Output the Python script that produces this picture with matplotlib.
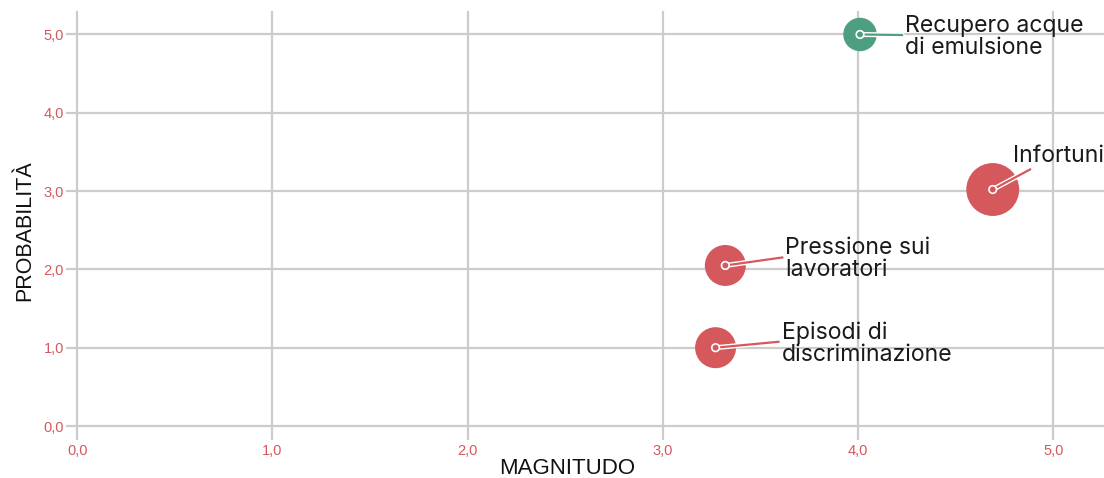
import numpy as np
import matplotlib
matplotlib.use("Agg")
import matplotlib.pyplot as plt
import matplotlib.patheffects as pe

# data
labels = ["Recupero acque\ndi emulsione", "Infortuni", "Pressione sui\nlavoratori",
          "Episodi di\ndiscriminazione"]
magnitudo = [4.01, 4.69, 3.32, 3.27]
probabilita = [5.0, 3.02, 2.05, 1.0]
rilevanza = [2, 5, 3, 3]
tipo = ["positivo", "negativo", "negativo", "negativo"]
ticks = [0, 1, 2, 3, 4, 5]
tick_labels = ["0,0", "1,0", "2,0", "3,0", "4,0", "5,0"]

# layout / style
colori = {"positivo": "#4e9f7f", "negativo": "#d4585c"}
label_offsets = [(45, 19), (20, 45), (60, 28), (66, 26)]  # pixels, text top-left
grid_c = "#cccccc"
red_tick = "#d4585c"

fig = plt.figure(figsize=(11.04, 4.78), dpi=100)
ax = fig.add_axes([77.3 / 1104, 52 / 478, 1 - 77.3 / 1104, (426 - 12) / 478])
ax.set_xlim(0, 5.26)
ax.set_ylim(0, 5.287)

for s in ax.spines.values():
    s.set_visible(False)
ax.set_xticks(ticks)
ax.set_yticks(ticks)
ax.set_xticklabels(tick_labels)
ax.set_yticklabels(tick_labels)
ax.grid(True, color=grid_c, lw=1.6)
for gl in ax.get_xgridlines() + ax.get_ygridlines():
    gl.set_clip_on(False)
ax.set_axisbelow(True)
ax.tick_params(axis="x", length=10, width=1.6, color=grid_c, pad=3,
               labelsize=10.5, labelcolor=red_tick)
ax.tick_params(axis="y", length=7.6, width=1.6, color=grid_c, pad=2,
               labelsize=10.5, labelcolor=red_tick)
for t in ax.get_xticklabels() + ax.get_yticklabels():
    t.set_fontfamily("Liberation Sans")

ax.set_xlabel("MAGNITUDO", fontsize=16, family="Liberation Sans", color="#111111")
ax.set_ylabel("PROBABILITÀ", fontsize=15.5, family="Liberation Sans", color="#111111")
ax.xaxis.set_label_coords((567 - 77.3) / (1104 - 77.3), -(469 - 426) / 414)
ax.yaxis.set_label_coords(-(77.3 - 25) / (1104 - 77.3), (426 - 231) / 414)
ax.xaxis.label.set_va("center")
ax.yaxis.label.set_va("center")

cols = [colori[t] for t in tipo]
ax.scatter(magnitudo, probabilita, s=np.array(rilevanza) * 290, c=cols,
           edgecolors="none", zorder=3)

for i, lab in enumerate(labels):
    dx, dy = label_offsets[i]
    ax.annotate(lab, xy=(magnitudo[i], probabilita[i]), xytext=(dx, dy),
                textcoords="offset pixels", ha="left", va="top",
                fontsize=16.6, family="Inter", color="#1a1a1a", linespacing=0.97,
                zorder=5,
                arrowprops=dict(arrowstyle="-", color=cols[i], lw=1.6,
                                shrinkA=0, shrinkB=0,
                                relpos=(0.25, 0.0) if i == 1 else (0.0, 0.55),
                                path_effects=[pe.Stroke(linewidth=3.6, foreground="white"),
                                              pe.Normal()]))

ax.scatter(magnitudo, probabilita, s=30, c=cols, edgecolors="white",
           linewidths=1.2, zorder=6)

fig.savefig("out.png", dpi=100)
